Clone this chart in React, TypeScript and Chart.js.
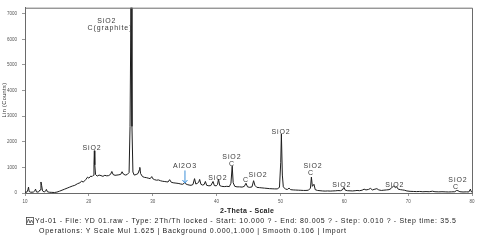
import React, { useEffect, useRef } from "react";
import { Chart, registerables } from "chart.js";

Chart.register(...registerables);

// 2-Theta positions (degrees) and intensities (counts)
const twoTheta = [
  10.0, 10.3, 10.45, 10.55, 10.65, 10.9, 11.3, 11.55, 11.65, 11.8, 12.1, 12.35, 12.5, 12.6, 12.75, 13.0, 13.25, 13.35, 13.5, 13.8,
  14.2, 14.6, 15.0, 15.4, 15.8, 16.2, 16.6, 17.0, 17.4, 17.8, 18.2, 18.6, 18.9, 19.1, 19.5, 19.8, 20.0, 20.3, 20.5, 20.7,
  20.8, 20.86, 20.93, 21.05, 21.3, 21.6, 21.9, 22.2, 22.5, 22.8, 23.1, 23.4, 23.6, 23.8, 24.1, 24.4, 24.7, 25.0, 25.2, 25.4,
  25.7, 26.0, 26.3, 26.45, 26.6, 26.75, 26.9, 27.1, 27.4, 27.7, 27.9, 27.98, 28.1, 28.4, 28.7, 29.0, 29.3, 29.6, 29.85, 30.0,
  30.3, 30.6, 30.9, 31.2, 31.5, 31.8, 32.1, 32.4, 32.65, 32.9, 33.2, 33.5, 33.8, 34.1, 34.4, 34.7, 35.0, 35.15, 35.4, 35.7,
  36.0, 36.3, 36.55, 36.75, 37.0, 37.2, 37.35, 37.55, 37.8, 38.05, 38.25, 38.45, 38.8, 39.1, 39.45, 39.65, 39.95, 40.15, 40.3, 40.5,
  40.8, 41.2, 41.6, 42.0, 42.25, 42.45, 42.6, 42.85, 43.2, 43.6, 44.0, 44.35, 44.6, 44.85, 45.2, 45.55, 45.8, 46.0, 46.3, 46.7,
  47.1, 47.5, 47.9, 48.3, 48.7, 49.1, 49.5, 49.85, 50.05, 50.15, 50.3, 50.45, 50.8, 51.1, 51.35, 51.6, 52.0, 52.4, 52.8, 53.2,
  53.6, 54.0, 54.4, 54.7, 54.85, 55.0, 55.25, 55.45, 55.8, 56.2, 56.6, 57.0, 57.4, 57.8, 58.2, 58.6, 59.0, 59.4, 59.7, 59.95,
  60.15, 60.5, 60.9, 61.3, 61.7, 62.0, 62.4, 62.8, 63.1, 63.4, 63.8, 64.1, 64.4, 64.8, 65.1, 65.4, 65.8, 66.2, 66.6, 67.0,
  67.3, 67.5, 67.75, 68.0, 68.2, 68.45, 68.8, 69.1, 69.4, 69.8, 70.3, 70.8, 71.3, 71.8, 72.3, 72.8, 73.3, 73.8, 74.2, 74.8,
  75.3, 75.8, 76.3, 76.8, 77.3, 77.6, 77.8, 78.1, 78.6, 79.1, 79.5, 79.75, 79.85, 80.0,
];
const counts = [
  30, 35, 120, 230, 60, 30, 35, 90, 150, 40, 35, 120, 430, 300, 80, 40, 80, 140, 50, 30,
  25, 20, 35, 70, 110, 150, 190, 230, 270, 300, 360, 400, 470, 420, 520, 620, 580, 660, 640, 690,
  1100, 1650, 1100, 720, 660, 700, 680, 650, 690, 670, 680, 730, 840, 720, 690, 700, 710, 730, 830, 740,
  700, 720, 800, 2600, 7600, 2600, 820, 700, 720, 760, 900, 1000, 760, 640, 610, 600, 580, 560, 640, 560,
  520, 500, 510, 480, 460, 450, 440, 430, 520, 420, 400, 390, 380, 370, 350, 340, 400, 360, 330, 310,
  300, 330, 560, 350, 380, 420, 530, 340, 310, 330, 450, 300, 280, 290, 450, 290, 280, 330, 540, 290,
  260, 250, 260, 250, 380, 1050, 400, 260, 240, 240, 230, 260, 380, 240, 220, 240, 480, 300, 220, 210,
  200, 190, 180, 170, 165, 160, 160, 220, 1200, 2300, 700, 240, 150, 140, 190, 130, 120, 115, 110, 105,
  100, 100, 110, 190, 620, 260, 340, 130, 100, 90, 80, 75, 80, 75, 80, 85, 95, 90, 120, 220,
  110, 90, 85, 80, 90, 100, 90, 110, 150, 120, 140, 180, 120, 150, 170, 120, 100, 110, 120, 130,
  170, 230, 270, 210, 240, 150, 130, 120, 110, 80, 65, 60, 55, 60, 50, 55, 50, 70, 50, 45,
  50, 45, 40, 45, 50, 100, 90, 50, 40, 45, 40, 150, 60, 40,
];

const yTickValues = [0, 1000, 2000, 3000, 4000, 5000, 6000, 7000];
const xTickValues = [10, 20, 30, 40, 50, 60, 70, 80];

// Phase labels and where they sit (2-Theta, counts)
const peakLabels = ["SiO2", "SiO2", "C(graphite)", "Al2O3", "SiO2", "SiO2", "C", "C", "SiO2", "SiO2", "SiO2", "C", "SiO2", "SiO2", "SiO2", "C"];
const peakLabelTheta = [20.5, 22.8, 23.3, 35.05, 40.2, 42.4, 42.4, 44.6, 46.5, 50.1, 55.1, 54.8, 59.6, 67.9, 77.8, 77.5];
const peakLabelCounts = [1740, 6716, 6450, 1042, 579, 1390, 1120, 500, 695, 2393, 1042, 772, 309, 309, 500, 232];

// Al2O3 arrow
const arrowTheta = 35.05;
const arrowFromCounts = 880;
const arrowToCounts = 390;

const xTitle = "2-Theta - Scale";
const yTitle = "Lin (Counts)";
const footerLine1 = "Yd-01 - File: YD 01.raw - Type: 2Th/Th locked - Start: 10.000 ? - End: 80.005 ? - Step: 0.010 ? - Step time: 35.5";
const footerLine2 = "Operations: Y Scale Mul 1.625 | Background 0.000,1.000 | Smooth 0.106 | Import";

const FONT = '"Liberation Sans", Arial, sans-serif';

function fitText(ctx: CanvasRenderingContext2D, text: string, x: number, y: number, width: number) {
  (ctx as any).letterSpacing = "0px";
  const w = ctx.measureText(text).width;
  const sp = (width - w) / Math.max(1, text.length - 1);
  (ctx as any).letterSpacing = `${sp}px`;
  ctx.textAlign = "left";
  ctx.fillText(text, x, y);
  (ctx as any).letterSpacing = "0px";
}

const overlay = {
  id: "xrdOverlay",
  afterDraw(chart: any) {
    const { ctx, chartArea, scales } = chart;
    const xs = scales.x;
    const ys = scales.y;
    ctx.save();
    // frame
    ctx.strokeStyle = "#6a6a6a";
    ctx.lineWidth = 1;
    ctx.beginPath();
    ctx.moveTo(chartArea.left, chartArea.top + 0.5);
    ctx.lineTo(chartArea.right + 0.5, chartArea.top + 0.5);
    ctx.lineTo(chartArea.right + 0.5, chartArea.bottom);
    ctx.stroke();

    // peak labels
    ctx.fillStyle = "#3a3a3a";
    ctx.font = `7px ${FONT}`;
    ctx.textAlign = "center";
    ctx.textBaseline = "middle";
    (ctx as any).letterSpacing = "0.9px";
    peakLabels.forEach((t, i) => {
      ctx.fillText(t, xs.getPixelForValue(peakLabelTheta[i]), ys.getPixelForValue(peakLabelCounts[i]));
    });
    (ctx as any).letterSpacing = "0px";

    // arrow
    const ax = xs.getPixelForValue(arrowTheta);
    const ay1 = ys.getPixelForValue(arrowFromCounts);
    const ay2 = ys.getPixelForValue(arrowToCounts);
    ctx.strokeStyle = "#3d8fd8";
    ctx.lineWidth = 1;
    ctx.beginPath();
    ctx.moveTo(ax, ay1);
    ctx.lineTo(ax, ay2);
    ctx.moveTo(ax - 2.5, ay2 - 3);
    ctx.lineTo(ax, ay2);
    ctx.lineTo(ax + 2.5, ay2 - 3);
    ctx.stroke();

    // axis titles
    ctx.fillStyle = "#222";
    ctx.font = `bold 7px ${FONT}`;
    ctx.textBaseline = "middle";
    fitText(ctx, xTitle, 220, 211, 54);

    ctx.save();
    ctx.translate(4, 100);
    ctx.rotate(-Math.PI / 2);
    ctx.font = `5.5px ${FONT}`;
    ctx.fillStyle = "#333";
    ctx.textAlign = "center";
    (ctx as any).letterSpacing = "0.4px";
    ctx.fillText(yTitle, 0, 0);
    ctx.restore();

    // footer
    ctx.fillStyle = "#222";
    ctx.font = `7px ${FONT}`;
    fitText(ctx, footerLine1, 35, 221.5, 421);
    fitText(ctx, footerLine2, 39, 231.5, 307);

    // icon
    ctx.strokeStyle = "#444";
    ctx.lineWidth = 0.8;
    ctx.strokeRect(26.5, 217.5, 7, 7);
    ctx.beginPath();
    ctx.moveTo(27, 223);
    ctx.lineTo(28.5, 219);
    ctx.lineTo(30, 223);
    ctx.lineTo(31.5, 220);
    ctx.lineTo(33, 223);
    ctx.stroke();

    ctx.restore();
  },
};

export default function App() {
  const ref = useRef<HTMLCanvasElement>(null);
  useEffect(() => {
    if (!ref.current) return;
    const points = twoTheta.map((t, i) => ({ x: t, y: counts[i] }));
    const chart = new Chart(ref.current, {
      type: "line",
      data: {
        datasets: [
          {
            data: points,
            borderColor: "#1e1e1e",
            borderWidth: 1,
            pointRadius: 0,
            tension: 0,
            fill: false,
          },
        ],
      },
      options: {
        animation: false,
        responsive: false,
        maintainAspectRatio: false,
        layout: { padding: { left: 0, right: 8, top: 7, bottom: 0 } },
        plugins: { legend: { display: false }, tooltip: { enabled: false }, title: { display: false } },
        scales: {
          x: {
            type: "linear",
            min: 10,
            max: 80,
            afterBuildTicks: (s: any) => {
              s.ticks = xTickValues.map((v) => ({ value: v }));
            },
            ticks: { color: "#555", font: { size: 4.5, family: FONT }, padding: 3, maxRotation: 0, callback: (v: any) => String(v) },
            grid: { display: true, drawOnChartArea: false, tickLength: 3, color: "#999" },
            border: { display: true, color: "#6a6a6a", width: 1 },
            afterFit: (s: any) => {
              s.height = 50;
            },
          },
          y: {
            type: "linear",
            min: 0,
            max: 7233,
            afterBuildTicks: (s: any) => {
              s.ticks = yTickValues.map((v) => ({ value: v }));
            },
            ticks: { color: "#555", font: { size: 4.5, family: FONT }, padding: 5, callback: (v: any) => String(v) },
            grid: { display: true, drawOnChartArea: false, tickLength: 3, color: "#999" },
            border: { display: true, color: "#6a6a6a", width: 1 },
            afterFit: (s: any) => {
              s.width = 25;
            },
          },
        },
      },
      plugins: [overlay],
    } as any);
    return () => chart.destroy();
  }, []);
  return (
    <div style={{ position: "absolute", left: 0, top: 0, width: 480, height: 243, background: "#fff" }}>
      <canvas ref={ref} width={480} height={243} style={{ display: "block", width: 480, height: 243 }} />
    </div>
  );
}
